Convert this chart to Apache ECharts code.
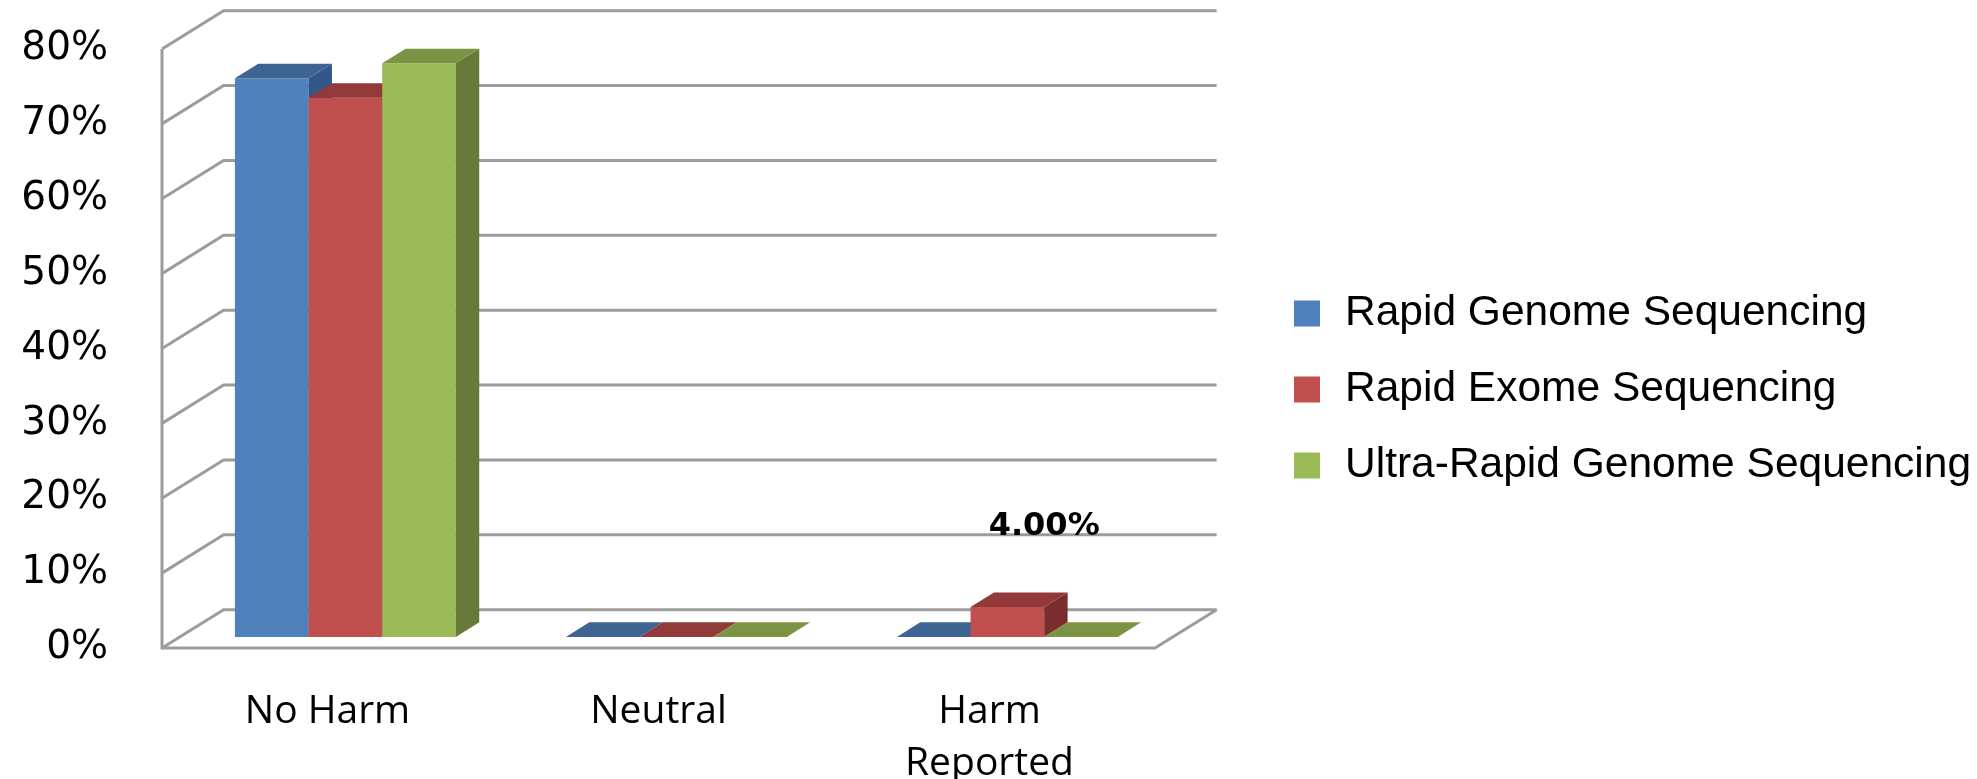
<!DOCTYPE html>
<html>
<head>
<meta charset="utf-8">
<script src="https://cdn.jsdelivr.net/npm/echarts@6/dist/echarts.min.js"></script>
<style>
html,body{margin:0;padding:0;background:#fff;}
#chart{width:1977px;height:779px;}
</style>
</head>
<body>
<div id="chart"></div>
<script>
// ---- data ----
const categories = ['No Harm', 'Neutral', 'Harm\nReported'];
const seriesNames = ['Rapid Genome Sequencing', 'Rapid Exome Sequencing', 'Ultra-Rapid Genome Sequencing'];
const rapidGenome = [74.6, 0, 0];
const rapidExome = [72.0, 0, 4.0];
const ultraRapidGenome = [76.6, 0, 0];
const rapidExomeLabels = ['', '', '4.00%'];
const yTicks = [0, 10, 20, 30, 40, 50, 60, 70, 80];

// ---- style ----
const DX = 61.6, DY = -38.3;          // depth of the 3D box
const BAR_FRONT = 0.29, BAR_DEPTH = 0.38; // bar placement inside the depth
const BAR_FRAC = 0.2225;              // bar width as fraction of category band
const palette = [
  {front: '#4F81BD', top: '#3E6493', side: '#34568A'},
  {front: '#C0504D', top: '#923939', side: '#7B2D2D'},
  {front: '#9BBB59', top: '#7A9443', side: '#677A38'}
];
const lineColor = '#9c9c9c';

function barRenderer(si, labels) {
  return function (params, api) {
    const cat = api.value(0), v = api.value(1);
    const base = api.coord([cat, 0]);
    const top = api.coord([cat, v]);
    const band = api.size([1, 0])[0];
    const bw = band * BAR_FRAC;
    const fx = BAR_FRONT * DX, fy = BAR_FRONT * DY;
    const ddx = BAR_DEPTH * DX, ddy = BAR_DEPTH * DY;
    const x0 = base[0] - 1.5 * bw + si * bw + fx;
    const x1 = x0 + bw;
    const yb = base[1] + fy;
    const yt = top[1] + fy;
    const c = palette[si];
    const children = [];
    if (v > 0) {
      children.push({type: 'polygon', shape: {points: [[x0, yb], [x1, yb], [x1, yt], [x0, yt]]}, style: {fill: c.front}});
      children.push({type: 'polygon', shape: {points: [[x1, yb], [x1 + ddx, yb + ddy], [x1 + ddx, yt + ddy], [x1, yt]]}, style: {fill: c.side}});
    }
    children.push({type: 'polygon', shape: {points: [[x0, yt], [x1, yt], [x1 + ddx, yt + ddy], [x0 + ddx, yt + ddy]]}, style: {fill: c.top}});
    const lbl = labels ? labels[params.dataIndex] : '';
    if (lbl) {
      children.push({type: 'text', x: x1, y: yt - 80, z2: 10, style: {
        text: lbl, fill: '#000', font: 'bold 32px "DejaVu Sans"', align: 'center', verticalAlign: 'middle'}});
    }
    return {type: 'group', children: children};
  };
}

function wallRenderer(params, api) {
  const cs = params.coordSys;
  const left = cs.x, right = cs.x + cs.width;
  const v = api.value(0);
  const y = api.coord([0, v])[1];
  const children = [];
  const st = {stroke: lineColor, lineWidth: 3, fill: null};
  children.push({type: 'polyline', shape: {points: [[left, y], [left + DX, y + DY], [right + DX, y + DY]]}, style: st});
  if (v === 0) {
    const yTop = api.coord([0, yTicks[yTicks.length - 1]])[1];
    children.push({type: 'polyline', shape: {points: [[left, yTop], [left, y], [right, y], [right + DX, y + DY]]}, style: st});
  }
  return {type: 'group', children: children};
}

const datasets = [rapidGenome, rapidExome, ultraRapidGenome];
const series = [{
  type: 'custom',
  name: 'walls',
  z: 1,
  silent: true,
  renderItem: wallRenderer,
  data: yTicks.map(t => [t]),
  encode: {y: 0},
  legendHoverLink: false
}];
datasets.forEach((d, i) => {
  series.push({
    type: 'custom',
    name: seriesNames[i],
    z: 2 + i,
    itemStyle: {color: palette[i].front},
    renderItem: barRenderer(i, i === 1 ? rapidExomeLabels : null),
    data: d.map((val, k) => [k, val]),
    encode: {x: 0, y: 1}
  });
});

const chart = echarts.init(document.getElementById('chart'), null, {renderer: 'canvas'});
chart.setOption({
  backgroundColor: '#ffffff',
  animation: false,
  grid: {left: 162, top: 49, width: 993, height: 599, outerBoundsMode: 'none', containLabel: false},
  legend: {
    orient: 'vertical',
    left: 1289,
    top: 287,
    itemWidth: 26,
    itemHeight: 26,
    itemGap: 33,
    icon: 'rect',
    data: seriesNames,
    textStyle: {fontFamily: '"Liberation Sans", Arial', fontSize: 42.5, color: '#000', padding: [0, 0, 0, 20]}
  },
  xAxis: {
    type: 'category',
    data: categories,
    axisLine: {show: false},
    axisTick: {show: false},
    splitLine: {show: false},
    axisLabel: {
      interval: 0,
      margin: 38,
      fontFamily: '"Open Sans"',
      fontSize: 39,
      lineHeight: 52,
      color: '#000',
      verticalAlign: 'top'
    }
  },
  yAxis: {
    type: 'value',
    min: 0,
    max: 80,
    interval: 10,
    axisLine: {show: false},
    axisTick: {show: false},
    splitLine: {show: false},
    axisLabel: {
      formatter: '{value}%',
      margin: 54,
      padding: [7, 0, 0, 0],
      fontFamily: '"DejaVu Sans"',
      fontSize: 39,
      color: '#000'
    }
  },
  series: series
});
</script>
</body>
</html>
